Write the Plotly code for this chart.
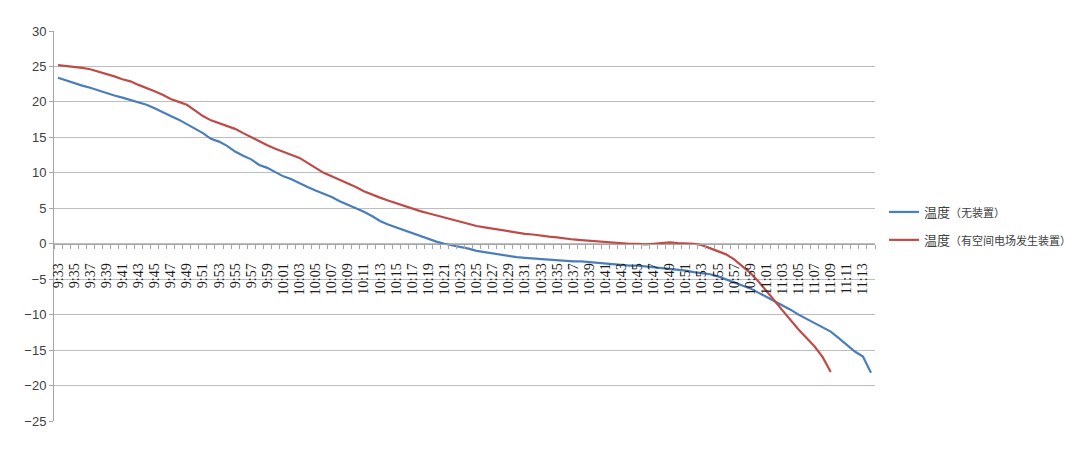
import plotly.graph_objects as go

# Categories: one per minute, 9:33 .. 11:14
start_minute = 9 * 60 + 33
n_cat = 102
times = [f"{(start_minute + k) // 60}:{(start_minute + k) % 60:02d}" for k in range(n_cat)]
tick_text = [t if k % 2 == 0 else "" for k, t in enumerate(times)]

series_names = ["温度（无装置）", "温度（有空间电场发生装置）"]

temp_no_device = [
    23.4, 23.0, 22.7, 22.3, 22.0, 21.6, 21.3, 20.9, 20.6, 20.3,
    20.0, 19.6, 19.1, 18.5, 18.0, 17.5, 16.9, 16.3, 15.6, 14.8,
    14.4, 13.8, 13.0, 12.4, 11.9, 11.1, 10.7, 10.1, 9.5, 9.1,
    8.5, 8.0, 7.5, 7.1, 6.6, 6.0, 5.5, 5.1, 4.5, 3.9,
    3.2, 2.7, 2.3, 1.9, 1.5, 1.1, 0.6, 0.3, 0.0, -0.2,
    -0.5, -0.7, -1.0, -1.2, -1.4, -1.6, -1.7, -1.9, -2.0, -2.1,
    -2.2, -2.3, -2.4, -2.4, -2.5, -2.5, -2.6, -2.7, -2.8, -3.0,
    -3.0, -3.1, -3.1, -3.2, -3.3, -3.4, -3.5, -3.6, -3.8, -4.0,
    -4.1, -4.3, -4.6, -5.0, -5.4, -5.8, -6.3, -6.9, -7.5, -8.0,
    -8.6, -9.3, -10.0, -10.6, -11.1, -11.7, -12.4, -13.3, -14.3, -15.2,
    -15.9, -18.2,
]

temp_with_device = [
    25.2, 25.1, 25.0, 24.8, 24.6, 24.3, 24.0, 23.6, 23.2, 22.9,
    22.4, 22.0, 21.5, 21.0, 20.4, 20.0, 19.6, 18.8, 18.0, 17.4,
    17.0, 16.6, 16.2, 15.6, 15.0, 14.4, 13.9, 13.4, 13.0, 12.6,
    12.1, 11.4, 10.7, 10.0, 9.5, 9.0, 8.6, 8.0, 7.4, 6.9,
    6.5, 6.1, 5.7, 5.3, 5.0, 4.6, 4.3, 4.0, 3.7, 3.4,
    3.0, 2.7, 2.5, 2.3, 2.1, 1.9, 1.8, 1.6, 1.4, 1.3,
    1.1, 1.0, 0.9, 0.7, 0.6, 0.5, 0.4, 0.3, 0.2, 0.1,
    0.1, 0.0, 0.0, -0.1, 0.0, 0.1, 0.2, 0.1, 0.1, 0.0,
    -0.2, -0.6, -1.0, -1.5, -2.2, -3.1, -4.1, -5.3, -6.6, -8.0,
    -9.4, -10.8, -12.1, -13.3, -14.5, -16.0, -18.1,
]

y_ticks = [30, 25, 20, 15, 10, 5, 0, -5, -10, -15, -20, -25]

colors = ["#4A7EBB", "#BE4B48"]

fig = go.Figure()
for name, vals, col, grp in [
    (series_names[0], temp_no_device, colors[0], "a"),
    (series_names[1], temp_with_device, colors[1], "b"),
]:
    label = name[:2] + "<span style='font-size:11px'>" + name[2:] + "</span>"
    fig.add_trace(go.Scatter(
        x=times[:len(vals)], y=vals, mode="lines", name=label,
        legendgroup=grp,
        line=dict(color=col, width=2.2),
    ))

y_min, y_max = -25, 30
# The page body adds an 8px offset, so margins are reduced by 8px on left/top.
fig.update_layout(
    width=1080, height=455,
    margin=dict(l=46, r=213, t=23, b=42, autoexpand=False),
    paper_bgcolor="white", plot_bgcolor="white",
    font=dict(family="Liberation Sans, Arial, sans-serif", color="#404040"),
    showlegend=True,
    legend=dict(
        x=1.011, y=0.5, xanchor="left", yanchor="middle",
        font=dict(family="Noto Sans CJK SC", size=13, color="#404040"),
        tracegroupgap=8, itemwidth=30,
    ),
    xaxis=dict(
        type="category",
        categoryorder="array", categoryarray=times,
        range=[-0.5, n_cat - 0.5],
        tickmode="array", tickvals=times, ticktext=tick_text,
        tickangle=-90,
        tickson="boundaries",
        ticks="outside", ticklen=4, tickcolor="#A6A6A6",
        tickfont=dict(family="Liberation Serif, Times New Roman, serif", size=14, color="#1a1a1a"),
        showline=True, linecolor="#A6A6A6", linewidth=1,
        showgrid=False, zeroline=False,
        anchor="free", position=(0 - y_min) / (y_max - y_min),
        ticklabelstandoff=13,
        automargin=False,
    ),
    yaxis=dict(
        range=[y_min, y_max],
        tickmode="array", tickvals=y_ticks,
        ticks="outside", ticklen=4, tickcolor="#A6A6A6",
        tickfont=dict(family="Liberation Sans, Arial, sans-serif", size=13, color="#404040"),
        showline=True, linecolor="#A6A6A6", linewidth=1,
        showgrid=True, gridcolor="#BDBDBD", gridwidth=1,
        zeroline=False,
        automargin=False,
    ),
)

fig.write_html("out.html")
